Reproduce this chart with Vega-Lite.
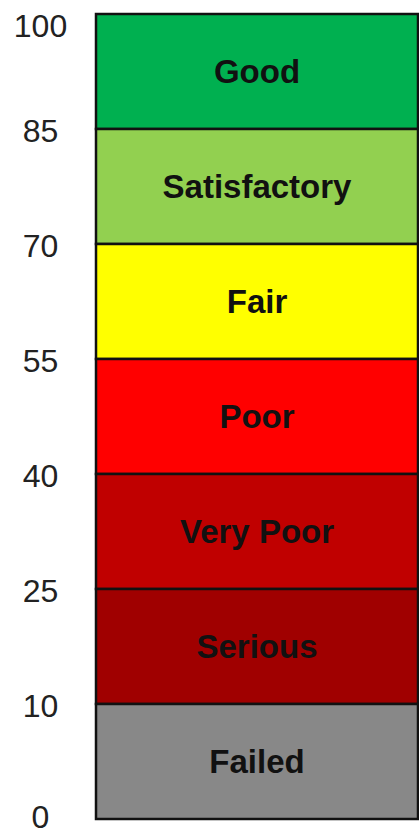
{
  "$schema": "https://vega.github.io/schema/vega-lite/v6.json",
  "width": 322,
  "height": 805,
  "autosize": "none",
  "padding": {"left": 96, "top": 14, "right": 1, "bottom": 14},
  "background": "white",
  "config": {"view": {"stroke": null}},
  "data": {"values": [
    {"category": "Good", "lo": 85, "hi": 100, "color": "#00B050"},
    {"category": "Satisfactory", "lo": 70, "hi": 85, "color": "#92D050"},
    {"category": "Fair", "lo": 55, "hi": 70, "color": "#FFFF00"},
    {"category": "Poor", "lo": 40, "hi": 55, "color": "#FF0000"},
    {"category": "Very Poor", "lo": 25, "hi": 40, "color": "#C00000"},
    {"category": "Serious", "lo": 10, "hi": 25, "color": "#A00000"},
    {"category": "Failed", "lo": 0, "hi": 10, "color": "#888888"}
  ]},
  "encoding": {
    "y": {
      "field": "lo", "type": "quantitative",
      "scale": {"domain": [0, 10, 25, 40, 55, 70, 85, 100], "range": [805, 690, 575, 460, 345, 230, 115, 0], "nice": false, "zero": false},
      "axis": {
        "title": null, "values": [0, 10, 25, 40, 55, 70, 85, 100],
        "domain": false, "ticks": false, "tickSize": 0, "grid": false,
        "labelAlign": "center", "labelPadding": 56,
        "labelFont": "Liberation Sans", "labelFontSize": 32, "labelColor": "#222222",
        "labelOffset": {"condition": [{"test": "datum.value == 100", "value": 12}, {"test": "datum.value == 0", "value": -2}], "value": 2},
        "labelBaseline": "middle"
      }
    }
  },
  "layer": [
    {
      "mark": {"type": "rect", "stroke": "#111111", "strokeWidth": 2.5},
      "encoding": {
        "y2": {"field": "hi"},
        "x": {"datum": 0, "type": "quantitative", "scale": {"domain": [0, 1]}, "axis": null},
        "x2": {"datum": 1},
        "fill": {"field": "color", "type": "nominal", "scale": null}
      }
    },
    {
      "transform": [{"calculate": "(datum.lo + datum.hi) / 2", "as": "mid"}],
      "mark": {"type": "text", "font": "Liberation Sans", "fontWeight": "bold", "fontSize": 33, "color": "#111111", "baseline": "middle", "dy": 1},
      "encoding": {
        "y": {"field": "mid", "type": "quantitative"},
        "x": {"datum": 0.5, "type": "quantitative"},
        "text": {"field": "category"}
      }
    }
  ]
}
